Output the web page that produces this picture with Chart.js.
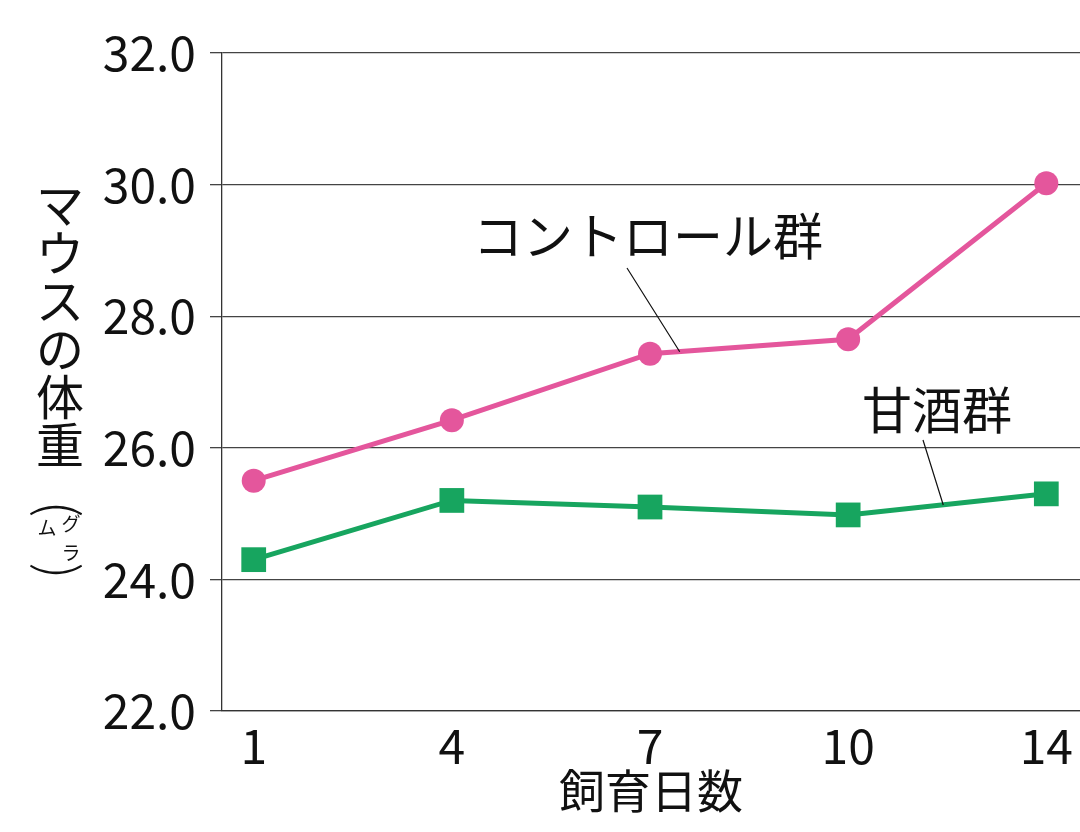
<!DOCTYPE html>
<html>
<head>
<meta charset="utf-8">
<script src="https://cdn.jsdelivr.net/npm/chart.js@4"></script>
<style>
  html, body { margin: 0; padding: 0; background: #fff; }
  canvas { display: block; }
</style>
</head>
<body>
<canvas id="grafico" width="1080" height="832"></canvas>
<script>
// datos
const dias = ['1', '4', '7', '10', '14'];
const controlGrupo = [25.5, 26.42, 27.43, 27.65, 30.02];
const amazakeGrupo = [24.3, 25.2, 25.1, 24.98, 25.3];
const nombres = ['コントロール群', '甘酒群'];
const tituloY = ['マ', 'ウ', 'ス', 'の', '体', '重'];
const unidadY = ['グ', 'ラ', 'ム'];
const tituloX = '飼育日数';

const FUENTE = '"Noto Sans CJK JP", "Noto Sans", sans-serif';
const ROSA = '#e4569c';
const VERDE = '#17a55f';

const puntos = arr => arr.map((v, i) => ({ x: i, y: v }));

// etiquetas y lineas guia
const anotaciones = {
    id: 'anotaciones',
    afterDraw(chart) {
        const ctx = chart.ctx;
        const x = chart.scales.x, y = chart.scales.y;
        ctx.save();
        ctx.fillStyle = '#111';
        ctx.font = '50px ' + FUENTE;
        ctx.textAlign = 'center';
        ctx.textBaseline = 'middle';
        ctx.fillText(nombres[0], 648, 236);
        ctx.fillText(nombres[1], 937, 410);

        ctx.strokeStyle = '#111';
        ctx.lineWidth = 1.2;
        ctx.beginPath();
        ctx.moveTo(627, 268);
        ctx.lineTo(x.getPixelForValue(2.15), y.getPixelForValue(27.46));
        ctx.moveTo(923, 440);
        ctx.lineTo(x.getPixelForValue(3.48), y.getPixelForValue(25.13));
        ctx.stroke();

        // titulo vertical del eje y
        ctx.font = '48px ' + FUENTE;
        tituloY.forEach((c, i) => ctx.fillText(c, 60, 205 + i * 48));

        // parentesis verticales (girados)
        ctx.font = '300 52px ' + FUENTE;
        ctx.save();
        ctx.translate(60, 509);
        ctx.rotate(Math.PI / 2);
        ctx.fillText('(', 0, 0);
        ctx.restore();
        ctx.save();
        ctx.translate(60, 571);
        ctx.rotate(Math.PI / 2);
        ctx.fillText(')', 0, 0);
        ctx.restore();

        ctx.font = '19px ' + FUENTE;
        ctx.fillText(unidadY[0], 71, 524);
        ctx.fillText(unidadY[1], 71, 553);
        ctx.fillText(unidadY[2], 47, 528);
        ctx.restore();
    }
};

const ctx = document.getElementById('grafico').getContext('2d');
new Chart(ctx, {
    type: 'line',
    data: {
        datasets: [{
            label: nombres[0],
            data: puntos(controlGrupo),
            borderColor: ROSA,
            backgroundColor: ROSA,
            borderWidth: 5,
            pointStyle: 'circle',
            pointRadius: 12,
            pointBorderWidth: 0
        }, {
            label: nombres[1],
            data: puntos(amazakeGrupo),
            borderColor: VERDE,
            backgroundColor: VERDE,
            borderWidth: 5,
            pointStyle: 'rect',
            pointRadius: 17.5,
            pointBorderWidth: 0
        }]
    },
    options: {
        responsive: false,
        animation: false,
        devicePixelRatio: 1,
        layout: {
            autoPadding: false,
            padding: { top: 53, right: 0, left: 0, bottom: 0 }
        },
        plugins: {
            legend: { display: false },
            tooltip: { enabled: false }
        },
        scales: {
            x: {
                type: 'linear',
                min: -0.16,
                max: 4.17,
                afterFit: s => { s.height = 121; },
                afterBuildTicks: s => { s.ticks = dias.map((d, i) => ({ value: i })); },
                ticks: {
                    autoSkip: false,
                    maxRotation: 0,
                    padding: 6,
                    color: '#111',
                    font: { family: FUENTE, size: 48 },
                    callback: v => dias[v]
                },
                grid: { display: false, drawTicks: false },
                border: { color: '#333', width: 1.3 },
                title: {
                    display: true,
                    text: tituloX,
                    color: '#111',
                    font: { family: FUENTE, size: 46 },
                    padding: { top: 0, bottom: 14 }
                }
            },
            y: {
                min: 22,
                max: 32,
                afterFit: s => { s.width = 222; },
                ticks: {
                    stepSize: 2,
                    padding: 14,
                    color: '#111',
                    font: { family: FUENTE, size: 48 },
                    callback: v => v.toFixed(1)
                },
                grid: { color: '#444', lineWidth: 1.3, tickLength: 12 },
                border: { color: '#333', width: 1.3 }
            }
        }
    },
    plugins: [anotaciones]
});
</script>
</body>
</html>
